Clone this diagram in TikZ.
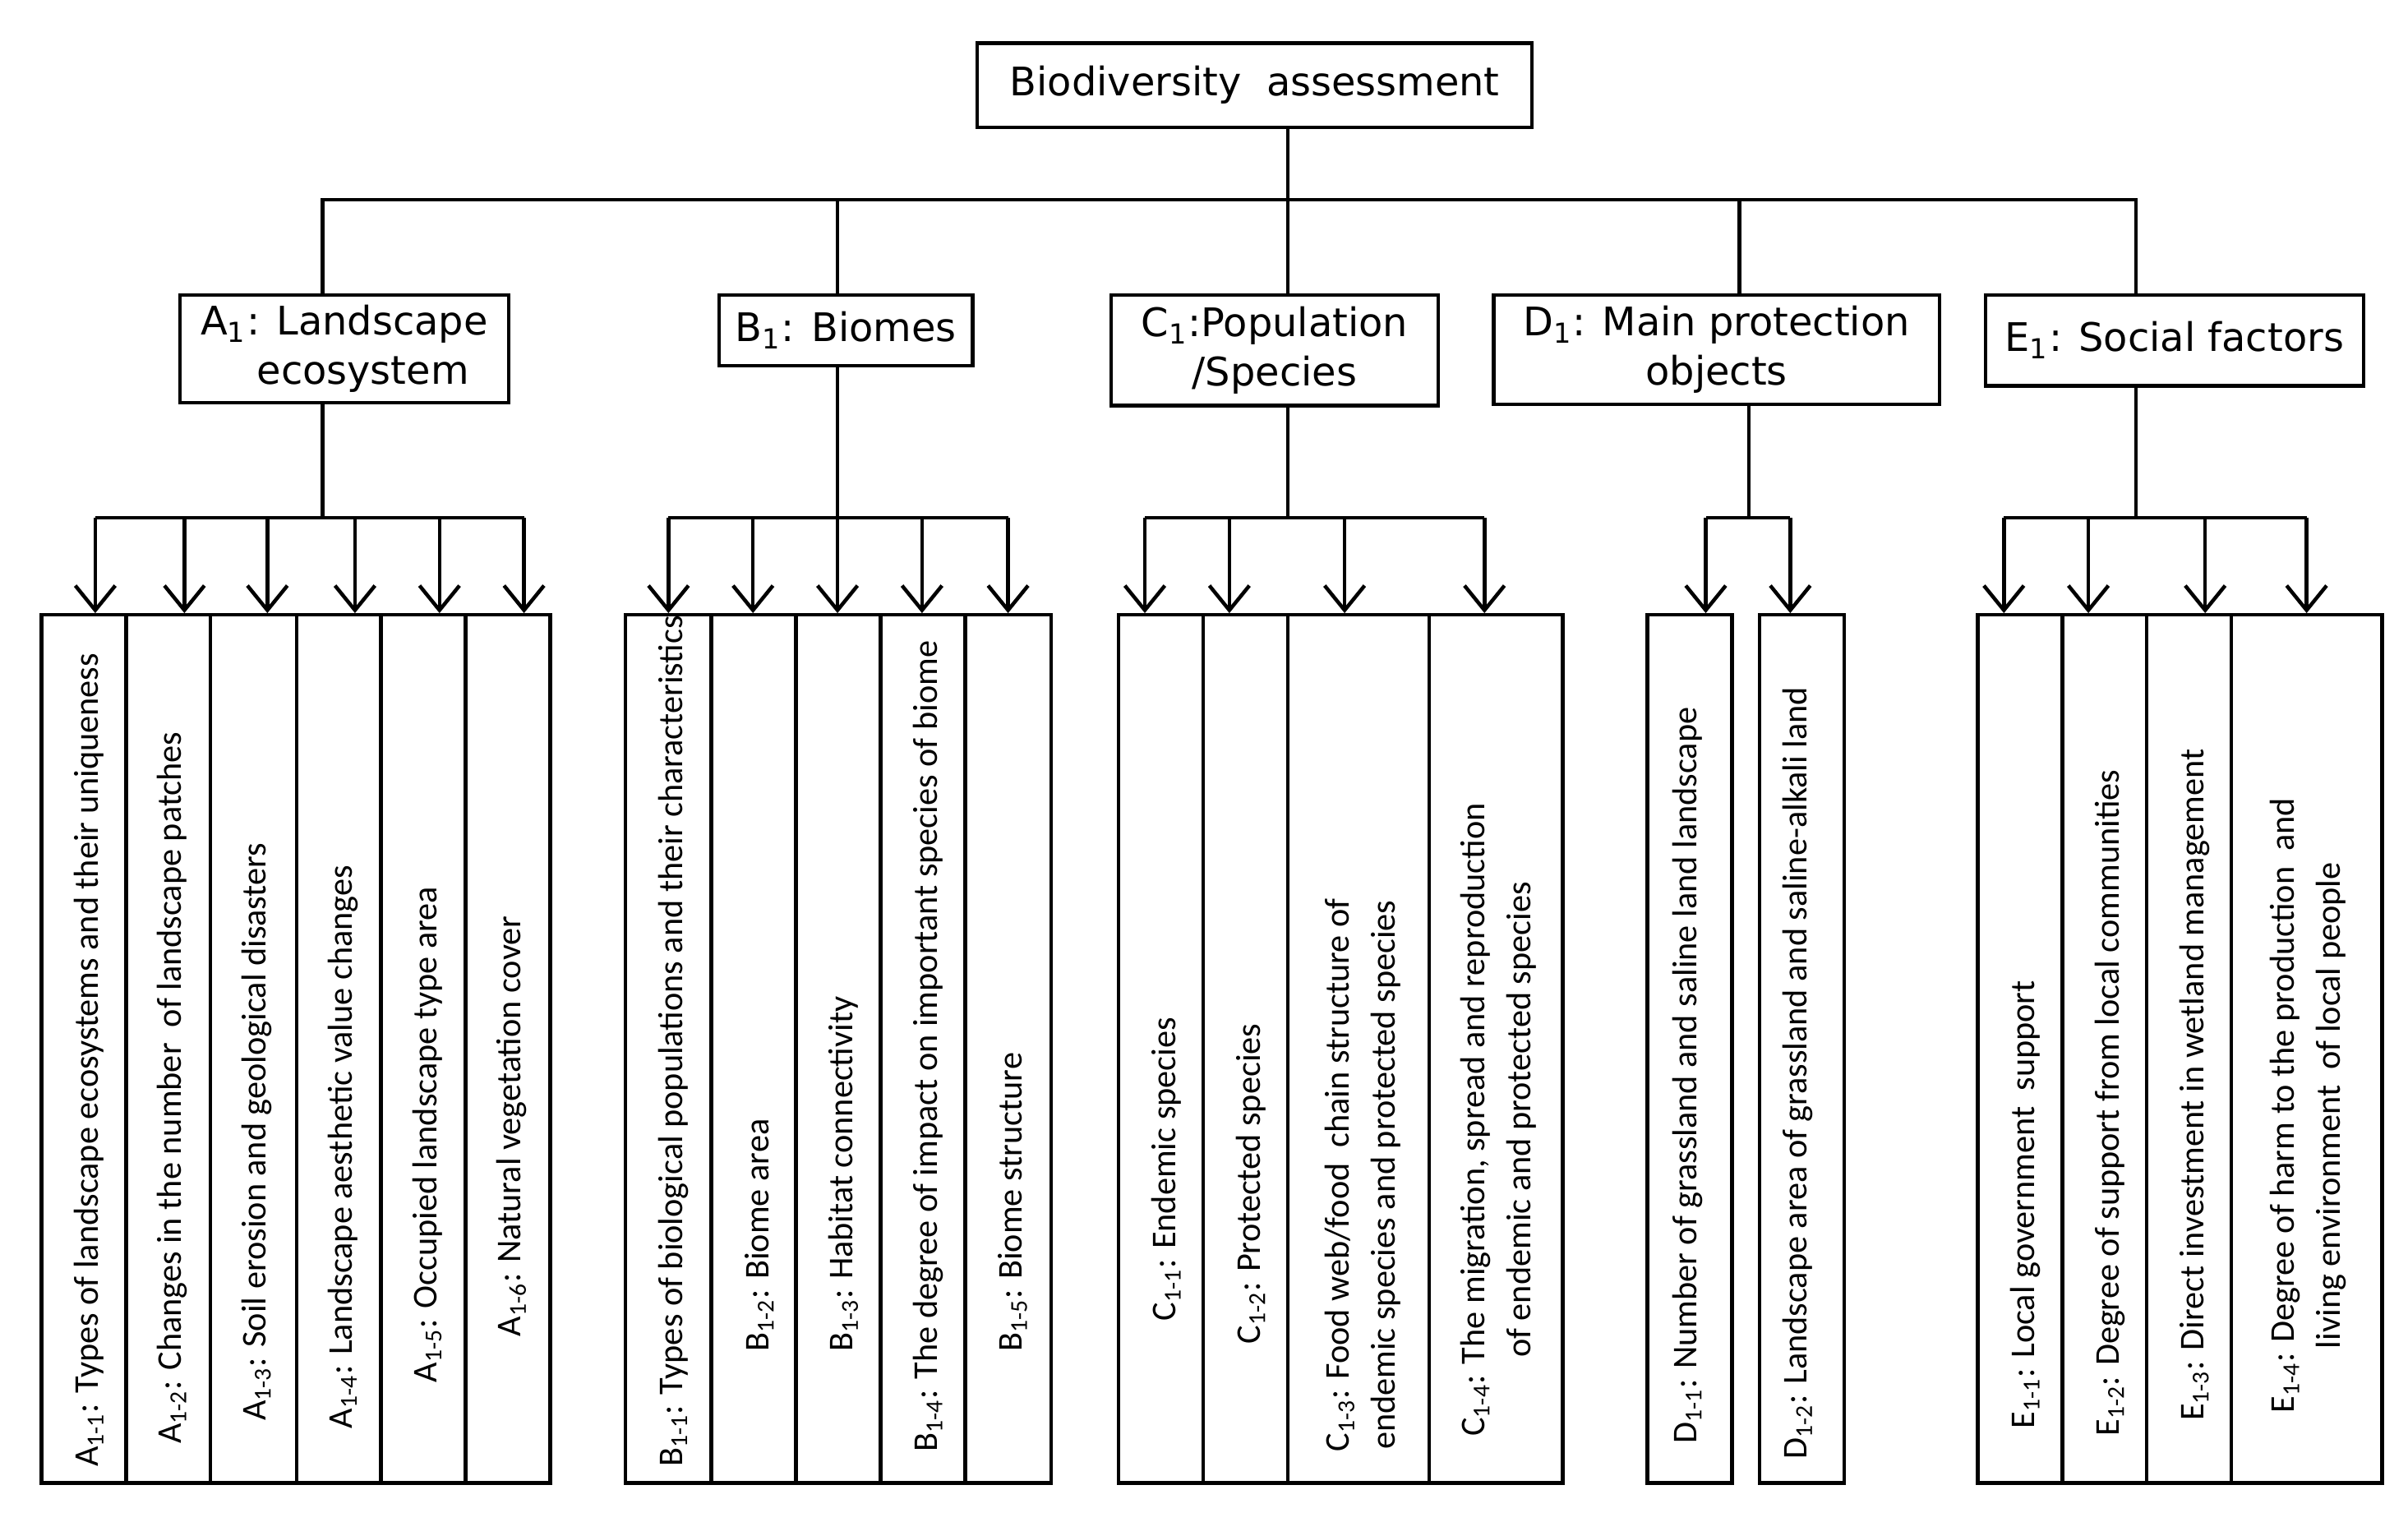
\documentclass[tikz,border=0pt]{standalone}
\usepackage{fontspec}
\setmainfont{Carlito}
\newfontfamily\hdrfont{DejaVu Sans}
\usetikzlibrary{arrows.meta}
\newcommand\sbx[1]{\textsubscript{#1}}
\begin{document}
\begin{tikzpicture}[x=0.5pt,y=-0.5pt,
  hdr/.style={draw,line width=1.2pt,inner sep=0pt,align=center,font=\hdrfont\fontsize{12.8}{16}\selectfont},
  lf/.style={rotate=90,anchor=west,inner sep=0pt,align=center,font=\fontsize{11.3}{15}\selectfont},
  box/.style={line width=1.2pt},
  ln/.style={line width=1.2pt},
  arr/.style={line width=1.2pt,-{Straight Barb[length=8pt,width=13pt,line width=1.2pt]}}]
\useasboundingbox (0,0) rectangle (1567,990);
\node[hdr,minimum width=180.5pt,minimum height=27.5pt] (top) at (816.5,55.5) {Biodiversity\ \ assessment};
\node[hdr,minimum width=107pt,minimum height=35pt] (A) at (224,227) {A\sbx{1}: Landscape\\\ \ \ ecosystem};
\node[hdr,minimum width=82.5pt,minimum height=23pt] (B) at (550.5,215) {B\sbx{1}: Biomes};
\node[hdr,minimum width=106.5pt,minimum height=36pt] (C) at (829.5,228) {C\sbx{1}:Population\\/Species};
\node[hdr,minimum width=145pt,minimum height=35.5pt] (D) at (1117,227.5) {D\sbx{1}: Main protection\\objects};
\node[hdr,minimum width=123pt,minimum height=29.5pt] (E) at (1415,221.5) {E\sbx{1}: Social factors};
\coordinate (t0) at (838,83);
\coordinate (t1) at (838,130);
\draw[ln] (t0) -- (t1);
\draw[ln] (210,192) -- (210,130) -- (1390,130) -- (1390,192);
\foreach \x in {545,838,1132} \draw[ln] (\x,130) -- (\x,192);
% group drops
\draw[ln] (210,262) -- (210,337); \draw[ln] (62,337) -- (341,337);
\draw[ln] (545,238) -- (545,337); \draw[ln] (435,337) -- (656,337);
\draw[ln] (838,264) -- (838,337); \draw[ln] (745,337) -- (966,337);
\draw[ln] (1138,263) -- (1138,337); \draw[ln] (1110,337) -- (1165,337);
\draw[ln] (1390,251) -- (1390,337); \draw[ln] (1304,337) -- (1501,337);
\foreach \x in {62,120,174,231,286,341,435,490,545,600,656,745,800,875,966,1110,1165,1304,1359,1435,1501}
  \draw[arr] (\x,337) -- (\x,399);
% leaf boxes
\foreach \a/\b in {27/82,82/137,137/193,193/248,248/303,303/358,
  407/463,463/518,518/573,573/628,628/684,
  728/783,783/838,838/930,930/1017,
  1072/1127,1145/1200,
  1287/1342,1342/1397,1397/1452,1452/1550}
  \draw[box] (\a,400) rectangle (\b,965);
% leaf texts
\node[lf] (a1) at (58,955) {A\sbx{1-1}: Types of landscape ecosystems and their uniqueness};
\node[lf] (a2) at (112,940) {A\sbx{1-2}: Changes in the number\ \ of landscape patches};
\node[lf] (a3) at (167,925) {A\sbx{1-3}: Soil erosion and geological disasters};
\node[lf] (a4) at (223,930) {A\sbx{1-4}: Landscape aesthetic value changes};
\node[lf] (a5) at (278,900) {A\sbx{1-5}: Occupied landscape type area};
\node[lf] (a6) at (333,870) {A\sbx{1-6}: Natural vegetation cover};
\node[lf] (b1) at (438,955) {B\sbx{1-1}: Types of biological populations and their characteristics};
\node[lf] (b2) at (494,880) {B\sbx{1-2}: Biome area};
\node[lf] (b3) at (549,880) {B\sbx{1-3}: Habitat connectivity};
\node[lf] (b4) at (604,945) {B\sbx{1-4}: The degree of impact on important species of biome};
\node[lf] (b5) at (659,880) {B\sbx{1-5}: Biome structure};
\node[lf] (c1) at (759,860) {C\sbx{1-1}: Endemic species};
\node[lf] (c2) at (814,875) {C\sbx{1-2}: Protected species};
\node[lf] (c3) at (887,945) {C\sbx{1-3}: Food web/food\ \ chain structure of\\endemic species and protected species};
\node[lf] (c4) at (975,935) {C\sbx{1-4}: The migration,\ spread and reproduction\\of endemic and protected species};
\node[lf] (d1) at (1098,940) {D\sbx{1-1}: Number of grassland and saline land landscape};
\node[lf] (d2) at (1170,950) {D\sbx{1-2}: Landscape area of grassland and saline-alkali land};
\node[lf] (e1) at (1318,930) {E\sbx{1-1}: Local government\ \ support};
\node[lf] (e2) at (1373,935) {E\sbx{1-2}: Degree of support from local communities};
\node[lf] (e3) at (1428,925) {E\sbx{1-3}: Direct investment in wetland management};
\node[lf] (e4) at (1502,920) {E\sbx{1-4}: Degree of harm to the production\ \ and\\living environment\ \ of local people};
\end{tikzpicture}
\end{document}
